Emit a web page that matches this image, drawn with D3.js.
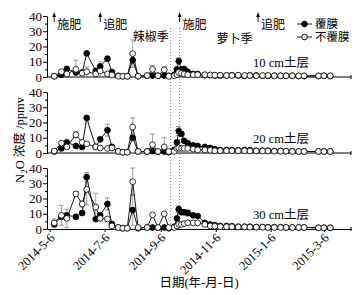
<!DOCTYPE html>
<html>
<head>
<meta charset="utf-8">
<script src="https://cdn.jsdelivr.net/npm/d3@7"></script>
<style>
    body { margin: 0; background: #fff; }
    svg text { font-family: "Liberation Serif", "Noto Sans CJK SC", serif; }
</style>
</head>
<body>
<div id="chart"></div>
<script>
//采样日期
let sampleDates = ['2014-05-11', '2014-05-19', '2014-05-25', '2014-06-04', '2014-06-11', '2014-06-16', '2014-06-26',
    '2014-07-01', '2014-07-09', '2014-07-14', '2014-07-21', '2014-07-26', '2014-07-31', '2014-08-06', '2014-08-12',
    '2014-08-22', '2014-08-28', '2014-09-03', '2014-09-10', '2014-09-15',
    '2014-09-21', '2014-09-24', '2014-09-26', '2014-09-29', '2014-10-02', '2014-10-06', '2014-10-12', '2014-10-17',
    '2014-10-25', '2014-10-31', '2014-11-05', '2014-11-11', '2014-11-18', '2014-11-24', '2014-12-01', '2014-12-08',
    '2014-12-14', '2014-12-21', '2014-12-28', '2015-01-03', '2015-01-10', '2015-01-17', '2015-01-23', '2015-01-30',
    '2015-02-06', '2015-02-12', '2015-02-28', '2015-03-06', '2015-03-13'];

//10 cm
let film10 = [0.5, 1.5, 5.3, 3, 3, 15.5, 4, 7, 12, 3.3, 0.8, 0.5, 0.5, 11, 0.5, 0.8, 1, 0.8, 1, 0.8,
    1.5, 5, 10.5, 5, 5.3, 3.5, 2, 2, 1.3, 1.2, 1, 1, 1, 1.2, 1, 0.8, 1, 1, 0.8, 0.8, 0.8, 0.8, 0.8, 0.8, 0.6, 0.6, 0.6, 0.8, 0.6];
let noFilm10 = [0.5, 3.5, 2, 5, 2.5, 3.5, 2, 4, 2, 1.3, 0.5, 0.5, 0.5, 15.3, 0.5, 1, 5, 0.8, 4.7, 0.5,
    0.8, 1.5, 3, 2.5, 2, 1.5, 1.5, 1.5, 1.5, 1.3, 1.2, 1.2, 1, 1, 1.2, 1, 1, 0.8, 1, 1, 0.8, 0.8, 0.8, 0.8, 0.8, 0.8, 0.8, 0.8, 0.8];
let film10Err = [0, 0.5, 1, 0.5, 0.5, 1, 0.5, 1, 1.5, 0.5, 0, 0, 0, 1.5, 0, 0.3, 0.3, 0.3, 0.3, 0.3,
    0.5, 1, 2, 1, 1, 0.5, 0.5, 0.5, 0.3, 0.3, 0.3, 0.3, 0.3, 0.3, 0.3, 0.3, 0.3, 0.3, 0.3, 0.3, 0.3, 0.3, 0.3, 0.3, 0.3, 0.3, 0.3, 0.3, 0.3];
let noFilm10Err = [0, 1, 0.5, 6, 1, 3, 0.5, 6, 0.5, 0.5, 0, 0, 0, 9, 0, 0.3, 2.5, 0.3, 2, 0.3,
    0.3, 0.5, 1, 0.5, 0.5, 0.5, 0.5, 0.5, 0.5, 0.3, 0.3, 0.3, 0.3, 0.3, 0.3, 0.3, 0.3, 0.3, 0.3, 0.3, 0.3, 0.3, 0.3, 0.3, 0.3, 0.3, 0.3, 0.3, 0.3];

//20 cm
let film20 = [1, 3, 7, 4.6, 4, 23, 4, 9, 15, 4, 1, 0.5, 0.5, 10, 1, 1, 1.3, 0.8, 1, 0.5,
    2, 7, 14.4, 12.5, 8, 6.5, 5, 4.6, 4, 3.3, 2.5, 2, 2, 1.8, 1.8, 2, 1.8, 1.5, 1.5, 1.5, 1.3, 1.3, 1.2, 1.2, 1, 1, 1, 1, 1];
let noFilm20 = [1.3, 6.5, 4, 12, 7, 6, 4, 3.3, 3, 3.3, 1, 0.5, 0.5, 17, 1, 1, 5.4, 1, 4, 1,
    1, 3, 3.3, 3, 3, 3, 2.5, 2, 2, 1.8, 1.5, 1.5, 1.5, 1.5, 1.5, 1.5, 1.3, 1.3, 1.3, 1.3, 1.2, 1.2, 1.2, 1, 1, 1, 1, 1, 1];
let film20Err = [0.3, 0.5, 1, 0.5, 0.5, 1, 0.5, 1, 4, 0.5, 0.3, 0, 0, 1.5, 0.3, 0.3, 0.3, 0.3, 0.3, 0.3,
    0.5, 1, 3, 1.5, 1, 1, 0.5, 0.5, 0.5, 0.5, 0.5, 0.5, 0.5, 0.5, 0.5, 0.5, 0.5, 0.5, 0.3, 0.3, 0.3, 0.3, 0.3, 0.3, 0.3, 0.3, 0.3, 0.3, 0.3];
let noFilm20Err = [0.3, 1, 0.5, 2, 1, 1, 0.5, 0.5, 0.5, 0.5, 0.3, 0, 0, 6, 0.3, 0.3, 7, 0.3, 6, 0.3,
    0.3, 0.5, 1, 0.5, 0.5, 0.5, 0.5, 0.5, 0.5, 0.5, 0.3, 0.3, 0.3, 0.3, 0.3, 0.3, 0.3, 0.3, 0.3, 0.3, 0.3, 0.3, 0.3, 0.3, 0.3, 0.3, 0.3, 0.3, 0.3];

//30 cm
let film30 = [3, 8, 9, 8, 10.5, 34, 6.5, 9, 16.4, 3.3, 1, 0.5, 0.5, 12.5, 0.5, 1, 1, 0.8, 1, 0.5,
    1.5, 7, 13, 11, 11, 10.5, 9, 8.5, 4, 3, 2.6, 2, 2, 1.8, 1.5, 1.5, 1.5, 1.3, 1.3, 1.2, 1.2, 1.2, 1, 1, 1, 1, 0.8, 0.8, 0.8];
let noFilm30 = [4, 9, 7, 23, 16.4, 26, 14.4, 7, 6.6, 2, 1, 0.5, 0.5, 31, 1, 1, 9.3, 1, 10, 1,
    1, 2, 3, 3, 3.5, 4, 4, 4, 3, 2, 1.8, 1.5, 1.5, 1.5, 1.3, 1.3, 1.2, 1.2, 1.2, 1, 1, 1, 1, 1, 1, 1, 0.8, 0.8, 0.8];
let film30Err = [1, 1.5, 1.5, 1.5, 1.5, 3, 1, 1.5, 4, 1, 0.3, 0, 0, 10, 0.3, 0.3, 0.3, 0.3, 0.3, 0.3,
    0.5, 1, 2, 1.5, 1.5, 2, 1, 1, 1, 0.5, 0.5, 0.5, 0.5, 0.5, 0.3, 0.3, 0.3, 0.3, 0.3, 0.3, 0.3, 0.3, 0.3, 0.3, 0.3, 0.3, 0.3, 0.3, 0.3];
let noFilm30Err = [2.5, 6.5, 6, 1.5, 2, 10, 9, 1.5, 1, 0.5, 0.3, 0, 0, 9, 0.3, 0.3, 1, 0.3, 1, 0.3,
    0.3, 0.5, 1, 1, 1, 1, 1, 1, 0.5, 0.5, 0.5, 0.5, 0.5, 0.3, 0.3, 0.3, 0.3, 0.3, 0.3, 0.3, 0.3, 0.3, 0.3, 0.3, 0.3, 0.3, 0.3, 0.3, 0.3];

let panelNames = ['10 cm土层', '20 cm土层', '30 cm土层'];
let yTicks = [0, 10, 20, 30, 40];
let xTickDates = ['2014-05-06', '2014-07-06', '2014-09-06', '2014-11-06', '2015-01-06', '2015-03-06'];
let seasonLines = ['2014-09-17', '2014-09-27'];
let notes = [
    {date: '2014-05-11', text: '施肥'},
    {date: '2014-07-01', text: '追肥'},
    {date: '2014-09-27', text: '施肥'},
    {date: '2014-12-23', text: '追肥'}
];
let seasons = [{date: '2014-08-06', text: '辣椒季'}, {date: '2014-11-07', text: '萝卜季'}];

let parse = d3.timeParse('%Y-%m-%d');
let W = 363, H = 295;
let left = 47, right = 351;
let panelTop = [16, 92, 168], panelH = 61;

let svg = d3.select('#chart').append('svg').attr('width', W).attr('height', H);

let xScale = d3.scaleTime()
    .domain([parse('2014-05-03'), parse('2015-04-05')])
    .range([left, right]);

let panels = [
    {f: film10, o: noFilm10, fe: film10Err, oe: noFilm10Err},
    {f: film20, o: noFilm20, fe: film20Err, oe: noFilm20Err},
    {f: film30, o: noFilm30, fe: film30Err, oe: noFilm30Err}
];
let dates = sampleDates.map(parse);

//季节分隔虚线
seasonLines.forEach(function (s) {
    svg.append('line')
        .attr('x1', xScale(parse(s))).attr('x2', xScale(parse(s)))
        .attr('y1', 28).attr('y2', panelTop[2] + panelH)
        .attr('stroke', '#666').attr('stroke-width', 0.8)
        .attr('stroke-dasharray', '1,2');
});

panels.forEach(function (p, k) {
    let top = panelTop[k];
    let yScale = d3.scaleLinear().domain([0, 40]).range([top + panelH, top]);
    let g = svg.append('g');

    //y轴
    let yAxis = g.append('g')
        .attr('transform', 'translate(' + left + ',0)')
        .call(d3.axisLeft(yScale).tickValues(yTicks).tickSize(4).tickSizeOuter(0).tickPadding(1));
    yAxis.selectAll('text').attr('font-size', 13).attr('fill', '#000');
    yAxis.selectAll('line,path').attr('stroke', '#000');
    g.append('g')
        .attr('transform', 'translate(' + left + ',0)')
        .call(d3.axisLeft(yScale).tickValues([5, 15, 25, 35]).tickSize(2).tickFormat(''))
        .call(function (a) { a.select('.domain').remove(); });

    //x轴
    if (k < 2) {
        g.append('line')
            .attr('x1', left).attr('x2', right)
            .attr('y1', top + panelH).attr('y2', top + panelH)
            .attr('stroke', '#000');
    } else {
        let xAxis = g.append('g')
            .attr('transform', 'translate(0,' + (top + panelH) + ')')
            .call(d3.axisBottom(xScale)
                .tickValues(xTickDates.map(parse))
                .tickSize(3).tickSizeOuter(0)
                .tickFormat(d3.timeFormat('%Y-%-m-%-d')));
        xAxis.selectAll('line,path').attr('stroke', '#000');
        xAxis.selectAll('text')
            .attr('font-size', 12.5)
            .attr('fill', '#000')
            .attr('text-anchor', 'end')
            .attr('x', -3).attr('y', 6).attr('dy', '0.35em')
            .attr('transform', 'rotate(-45)');
    }
    g.append('line')
        .attr('x1', right).attr('x2', right)
        .attr('y1', top + panelH - 2).attr('y2', top + panelH + 2)
        .attr('stroke', '#000');

    //误差线
    let errs = [];
    dates.forEach(function (d, i) {
        errs.push({d: d, v: p.o[i], e: p.oe[i]});
        errs.push({d: d, v: p.f[i], e: p.fe[i]});
    });
    let eg = g.append('g').attr('stroke', '#888').attr('stroke-width', 0.8);
    errs.filter(function (d) { return d.e > 0; }).forEach(function (d) {
        let x = xScale(d.d);
        let y1 = yScale(Math.max(0, d.v - d.e)), y2 = yScale(Math.min(40, d.v + d.e));
        eg.append('line').attr('x1', x).attr('x2', x).attr('y1', y1).attr('y2', y2);
        eg.append('line').attr('x1', x - 2.5).attr('x2', x + 2.5).attr('y1', y2).attr('y2', y2);
        eg.append('line').attr('x1', x - 2.5).attr('x2', x + 2.5).attr('y1', y1).attr('y2', y1);
    });

    //折线
    let line = d3.line()
        .x(function (d, i) { return xScale(dates[i]); })
        .y(function (d) { return yScale(d); });
    [p.o, p.f].forEach(function (s) {
        g.append('path').datum(s)
            .attr('d', line)
            .attr('fill', 'none')
            .attr('stroke', '#000')
            .attr('stroke-width', 0.9);
    });

    //点：先画覆膜（实心），再画不覆膜（空心）
    [[p.f, '#000'], [p.o, '#fff']].forEach(function (s) {
        g.append('g').selectAll('circle')
            .data(s[0])
            .enter()
            .append('circle')
            .attr('cx', function (d, i) { return xScale(dates[i]); })
            .attr('cy', function (d) { return yScale(d); })
            .attr('r', 2.9)
            .attr('fill', s[1])
            .attr('stroke', '#000')
            .attr('stroke-width', 0.8);
    });

    g.append('text')
        .attr('x', 253).attr('y', top + panelH - 10)
        .attr('font-size', 12.5)
        .text(panelNames[k]);
});

//施肥标注
notes.forEach(function (n) {
    let x = xScale(parse(n.date));
    svg.append('line')
        .attr('x1', x).attr('x2', x).attr('y1', 22).attr('y2', 15)
        .attr('stroke', '#000').attr('stroke-width', 0.9);
    svg.append('path')
        .attr('d', 'M' + (x - 1.8) + ',17 L' + x + ',12 L' + (x + 1.8) + ',17 Z')
        .attr('fill', '#000');
    svg.append('text')
        .attr('x', x + 3).attr('y', 29)
        .attr('font-size', 12)
        .text(n.text);
});
seasons.forEach(function (s, i) {
    svg.append('text')
        .attr('x', xScale(parse(s.date))).attr('y', 41 + i * 2)
        .attr('font-size', 12)
        .text(s.text);
});

//图例
let legend = svg.append('g').attr('transform', 'translate(297,24)');
[['覆膜', '#000'], ['不覆膜', '#fff']].forEach(function (d, i) {
    let gy = i * 13;
    legend.append('line').attr('x1', 0).attr('x2', 15).attr('y1', gy).attr('y2', gy)
        .attr('stroke', '#000').attr('stroke-width', 0.9);
    legend.append('circle').attr('cx', 7.5).attr('cy', gy).attr('r', 2.8)
        .attr('fill', d[1]).attr('stroke', '#000').attr('stroke-width', 0.9);
    legend.append('text').attr('x', 18).attr('y', gy + 4)
        .attr('font-size', 11.5).text(d[0]);
});

//坐标轴标题
svg.append('text')
    .attr('x', 199).attr('y', 287)
    .attr('text-anchor', 'middle')
    .attr('font-size', 12.5)
    .text('日期(年-月-日)');
let yt = svg.append('text')
    .attr('transform', 'translate(24,140) rotate(-90)')
    .attr('text-anchor', 'middle')
    .attr('font-size', 12.5);
yt.append('tspan').text('N');
yt.append('tspan').attr('font-size', 9).attr('dy', 3).text('2');
yt.append('tspan').attr('dy', -3).text('O 浓度 /ppmv');
</script>
</body>
</html>
